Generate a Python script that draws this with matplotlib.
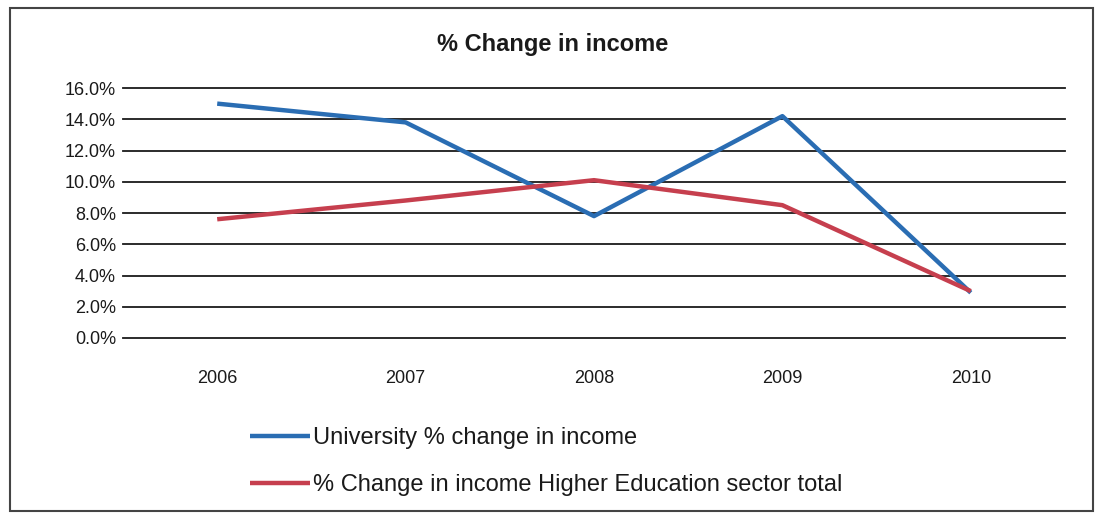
import matplotlib
matplotlib.use("Agg")
import matplotlib.pyplot as plt
from matplotlib.patches import Rectangle
from matplotlib.ticker import FuncFormatter

plt.rcParams['font.family'] = ['Liberation Sans', 'DejaVu Sans']

years = ["2006", "2007", "2008", "2009", "2010"]
university = [15.0, 13.8, 7.8, 14.2, 2.9]
sector_total = [7.6, 8.8, 10.1, 8.5, 3.0]
series_labels = ["University % change in income",
                 "% Change in income Higher Education sector total"]
title = "% Change in income"

W, H = 1098, 514
fig = plt.figure(figsize=(W / 100, H / 100), dpi=100)
fig.patch.set_facecolor("white")

ax = fig.add_axes([123 / W, 1 - 338 / H, (1065 - 123) / W, (338 - 88) / H])
x = list(range(len(years)))
l1, = ax.plot(x, university, color="#2a6db3", lw=3.2, solid_capstyle="butt", zorder=3)
l2, = ax.plot(x, sector_total, color="#c63f4e", lw=3.2, solid_capstyle="butt", zorder=3)

ax.set_xlim(-0.5, len(years) - 0.5)
ax.set_ylim(0, 16)
ax.set_yticks([0, 2, 4, 6, 8, 10, 12, 14, 16])
ax.yaxis.set_major_formatter(FuncFormatter(lambda v, p: f"{v:.1f}%"))
ax.set_xticks(x)
ax.set_xticklabels(years)
ax.grid(axis="y", color="#1a1a1a", lw=1.3)
for gl in ax.get_ygridlines():
    gl.set_clip_on(False)
ax.set_axisbelow(True)
for s in ax.spines.values():
    s.set_visible(False)
ax.tick_params(axis="both", length=0, labelsize=13, colors="#1a1a1a")
ax.tick_params(axis="y", pad=5)
ax.tick_params(axis="x", pad=23)

fig.text(553 / W, 1 - 45 / H, title, ha="center", va="center",
         fontsize=17, fontweight="bold", color="#1a1a1a")

fig.legend([l1, l2], series_labels, loc="upper left",
           bbox_to_anchor=(250 / W, 1 - 427 / H), frameon=False,
           fontsize=17, handlelength=2.55, handletextpad=0.12,
           labelspacing=1.05, borderaxespad=0, borderpad=0,
           labelcolor="#1a1a1a")

fig.add_artist(Rectangle((10 / W, 1 - 511 / H), (1093 - 10) / W, (511 - 8) / H,
                         transform=fig.transFigure, fill=False,
                         edgecolor="#444444", lw=1.5))

fig.savefig("out.png", dpi=100)
